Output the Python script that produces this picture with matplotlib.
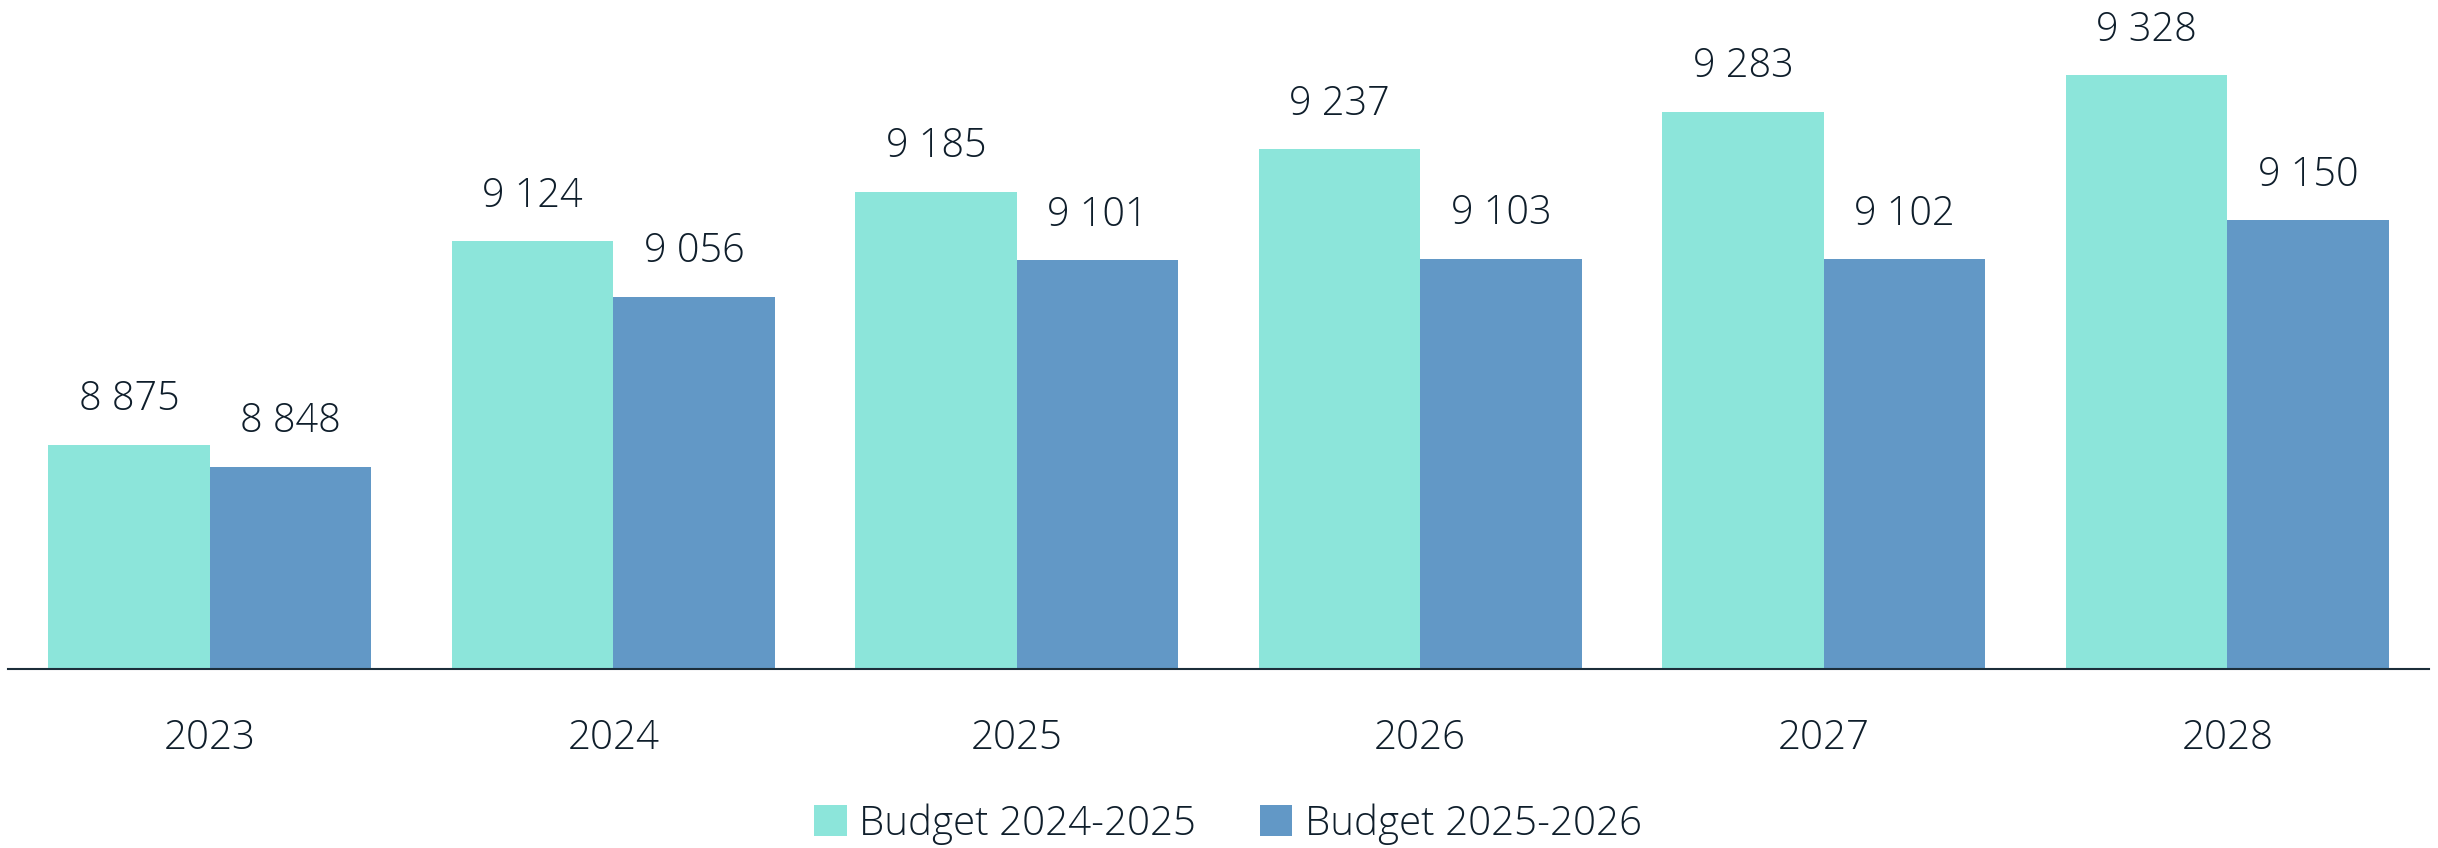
import matplotlib
matplotlib.use("Agg")
import matplotlib.pyplot as plt
import numpy as np

years = ["2023", "2024", "2025", "2026", "2027", "2028"]
budget_2024_2025 = [8875, 9124, 9185, 9237, 9283, 9328]
budget_2025_2026 = [8848, 9056, 9101, 9103, 9102, 9150]
series_names = ["Budget 2024-2025", "Budget 2025-2026"]

teal = "#8ce5da"
blue = "#6298c6"
txt = "#0f1e2b"

plt.rcParams['font.family'] = ['Open Sans', 'DejaVu Sans']

fig = plt.figure(figsize=(24.38, 8.48), dpi=100)
ax = fig.add_axes([8/2438, 1 - 669/848, (2429-8)/2438, 669/848])

x = np.arange(len(years))
w = 0.4
b1 = ax.bar(x - w/2, budget_2024_2025, w, color=teal, label=series_names[0])
b2 = ax.bar(x + w/2, budget_2025_2026, w, color=blue, label=series_names[1])

def fmt(v):
    return f"{v:,}".replace(",", " ")

for bars, vals in ((b1, budget_2024_2025), (b2, budget_2025_2026)):
    for r, v in zip(bars, vals):
        ax.annotate(fmt(v), (r.get_x() + r.get_width()/2, v), xytext=(0, 45),
                    textcoords='offset pixels', ha='center', va='center',
                    fontsize=28.5, color=txt, fontweight='light')

ax.set_ylim(8600, 9420)
ax.set_xlim(-0.5, 5.5)
ax.set_xticks(x)
ax.set_xticklabels(years, fontsize=29, color=txt, fontweight='light')
ax.tick_params(axis='x', length=0, pad=35)
ax.set_yticks([])
for s in ['top', 'right', 'left']:
    ax.spines[s].set_visible(False)
ax.spines['bottom'].set_color('#1c2e3a')
ax.spines['bottom'].set_linewidth(1.5)

leg = fig.legend(handles=[b1, b2], labels=series_names, loc='center',
                 bbox_to_anchor=(1228/2438, 1 - 824/848), ncol=2, frameon=False,
                 fontsize=29, handlelength=0.8, handleheight=0.8,
                 handletextpad=0.3, columnspacing=1.6)
for t in leg.get_texts():
    t.set_color(txt)
    t.set_fontweight('light')

fig.savefig("out.png", dpi=100)
